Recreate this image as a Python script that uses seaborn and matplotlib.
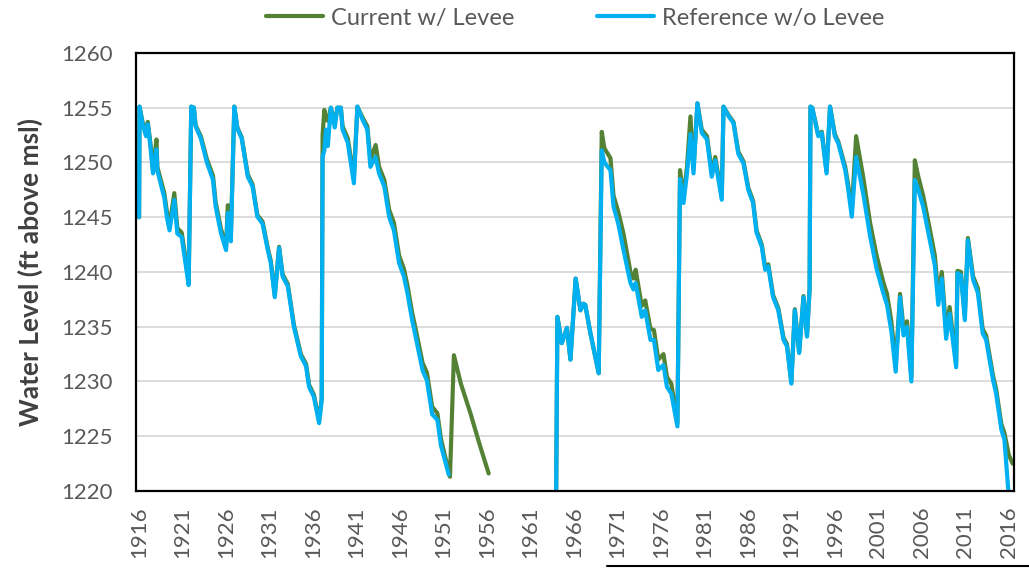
import numpy as np
import pandas as pd
import matplotlib
matplotlib.use("Agg")
import matplotlib.pyplot as plt
from matplotlib.lines import Line2D
import seaborn as sns

# Reference run without the levee, early period (1916-1951)
ref_years_a = [1916.0, 1916.05, 1916.4, 1916.8, 1917.0, 1917.3, 1917.6, 1918.0, 1918.1, 1918.5,
               1918.9, 1919.2, 1919.5, 1920.05, 1920.4, 1920.9, 1921.3, 1921.7, 1922.0, 1922.3,
               1922.5, 1923.1, 1923.8, 1924.5, 1924.8, 1925.4, 1926.0, 1926.2, 1926.55, 1926.95,
               1927.3, 1927.8, 1928.5, 1929.05, 1929.6, 1930.2, 1930.8, 1931.15, 1931.6, 1932.1,
               1932.5, 1933.1, 1933.8, 1934.6, 1935.2, 1935.55, 1936.1, 1936.7, 1937.0, 1937.1,
               1937.3, 1937.5, 1937.7, 1938.05, 1938.5, 1938.8, 1939.2, 1939.4, 1940.0, 1940.7,
               1941.1, 1941.7, 1942.25, 1942.6, 1943.2, 1943.6, 1944.2, 1944.75, 1945.3, 1945.9,
               1946.45, 1946.85, 1947.4, 1947.8, 1948.6, 1949.1, 1949.7, 1950.3, 1950.7, 1951.6]
ref_levels_a = [1245.0, 1255.1, 1253.5, 1252.4, 1253.5, 1251.5, 1249.0, 1251.2, 1249.3, 1248.0,
                1246.8, 1245.0, 1243.8, 1246.6, 1243.5, 1243.2, 1241.0, 1238.8, 1255.1, 1255.0,
                1253.3, 1252.2, 1250.0, 1248.4, 1246.0, 1243.6, 1242.0, 1245.4, 1242.8, 1255.1,
                1253.1, 1252.2, 1248.7, 1247.8, 1245.05, 1244.4, 1242.0, 1240.8, 1237.7, 1242.2,
                1239.6, 1238.7, 1235.0, 1232.3, 1231.4, 1229.5, 1228.6, 1226.2, 1228.3, 1250.5,
                1251.1, 1253.0, 1251.5, 1255.0, 1253.2, 1255.0, 1255.0, 1253.0, 1251.8, 1248.1,
                1255.1, 1253.9, 1253.0, 1249.6, 1250.5, 1249.0, 1247.8, 1245.05, 1243.8, 1240.8,
                1239.6, 1238.1, 1235.6, 1234.1, 1231.0, 1230.1, 1227.0, 1226.5, 1224.2, 1221.5]

# Reference run without the levee, later period (1964-2016)
ref_years_b = [1963.95, 1964.1, 1964.6, 1965.2, 1965.6, 1966.2, 1966.75, 1967.1, 1967.3, 1967.9,
               1968.85, 1969.2, 1969.5, 1970.2, 1970.55, 1971.1, 1971.7, 1972.5, 1972.85, 1973.1,
               1973.8, 1974.2, 1974.8, 1975.2, 1975.7, 1976.3, 1976.7, 1977.2, 1977.9, 1978.2,
               1978.6, 1979.0, 1979.4, 1979.75, 1980.2, 1980.7, 1981.3, 1981.85, 1982.25, 1983.0,
               1983.2, 1983.8, 1984.35, 1984.9, 1985.5, 1986.05, 1986.6, 1987.0, 1987.6, 1988.0,
               1988.35, 1988.9, 1989.5, 1990.1, 1990.5, 1991.0, 1991.4, 1991.9, 1992.4, 1992.8,
               1993.1, 1993.2, 1993.4, 1994.1, 1994.5, 1995.05, 1995.45, 1996.0, 1996.4, 1997.2,
               1997.55, 1997.95, 1998.45, 1999.3, 2000.05, 2000.8, 2001.6, 2002.0, 2002.5, 2003.0,
               2003.5, 2003.9, 2004.3, 2004.8, 2005.2, 2005.6, 2006.15, 2006.9, 2007.5, 2007.9,
               2008.3, 2008.8, 2009.2, 2009.95, 2010.1, 2010.5, 2010.95, 2011.3, 2011.9, 2012.45,
               2013.0, 2013.4, 2014.2, 2014.55, 2015.15, 2015.5, 2016.0]
ref_levels_b = [1219.0, 1235.9, 1233.5, 1234.9, 1232.0, 1239.4, 1236.5, 1237.1, 1237.0, 1234.4,
                1230.75, 1251.1, 1250.0, 1249.3, 1246.0, 1244.4, 1242.0, 1239.0, 1238.4, 1239.0,
                1235.9, 1236.5, 1233.8, 1233.8, 1231.05, 1231.5, 1229.5, 1228.9, 1225.9, 1248.5,
                1246.3, 1249.0, 1252.6, 1249.0, 1255.4, 1252.7, 1252.1, 1248.7, 1250.2, 1246.6,
                1255.1, 1254.2, 1253.6, 1250.8, 1249.9, 1247.5, 1246.3, 1243.6, 1242.3, 1240.2,
                1240.5, 1237.7, 1236.5, 1233.8, 1233.2, 1229.8, 1236.5, 1232.6, 1237.7, 1234.1,
                1238.4, 1255.1, 1255.0, 1252.4, 1252.7, 1249.0, 1255.1, 1252.4, 1251.75, 1249.3,
                1247.5, 1245.05, 1250.5, 1247.0, 1243.3, 1240.3, 1238.0, 1237.0, 1234.6, 1230.9,
                1237.7, 1234.2, 1235.0, 1230.0, 1248.4, 1247.5, 1246.0, 1243.0, 1240.6, 1237.0,
                1239.4, 1233.9, 1236.2, 1231.3, 1239.9, 1239.7, 1235.6, 1242.9, 1239.3, 1238.1,
                1234.4, 1233.8, 1230.1, 1228.9, 1225.6, 1224.7, 1219.5]

# Current conditions with the levee, early period (1916-1956)
cur_years_a = ref_years_a + [1951.75, 1952.2, 1953.0, 1954.1, 1955.1, 1956.2]
cur_levels_a = [1245.0, 1255.1, 1253.7, 1252.6, 1253.7, 1251.8, 1249.3, 1252.1, 1249.6, 1248.4,
                1247.2, 1245.5, 1244.2, 1247.2, 1244.0, 1243.6, 1241.5, 1239.0, 1255.1, 1255.0,
                1253.4, 1252.4, 1250.3, 1248.8, 1246.4, 1244.0, 1242.3, 1246.1, 1243.1, 1255.1,
                1253.2, 1252.3, 1248.9, 1248.0, 1245.2, 1244.6, 1242.2, 1241.0, 1237.9, 1242.3,
                1239.8, 1238.9, 1235.2, 1232.5, 1231.6, 1229.7, 1228.8, 1226.4, 1228.5, 1252.5,
                1254.8, 1254.0, 1253.8, 1255.0, 1253.6, 1255.0, 1255.0, 1253.3, 1252.2, 1248.6,
                1255.1, 1254.1, 1253.3, 1250.2, 1251.6, 1249.6, 1248.4, 1245.7, 1244.5, 1241.5,
                1240.3, 1238.8, 1236.3, 1234.8, 1231.7, 1230.8, 1227.7, 1227.1, 1224.8, 1221.8,
                1221.3, 1232.4, 1229.8, 1227.1, 1224.4, 1221.6]

# Current conditions with the levee, later period (1964-2016)
cur_years_b = ref_years_b[:-1] + [2016.0, 2016.45]
cur_levels_b = [1219.0, 1235.9, 1233.5, 1234.9, 1232.0, 1239.4, 1236.5, 1237.1, 1237.0, 1234.4,
                1230.75, 1252.8, 1251.3, 1250.4, 1247.0, 1245.5, 1243.5, 1240.0, 1239.4, 1240.2,
                1236.9, 1237.4, 1234.8, 1234.7, 1232.0, 1232.5, 1230.4, 1229.8, 1226.2, 1249.3,
                1246.8, 1249.6, 1254.2, 1249.4, 1255.4, 1253.0, 1252.4, 1249.1, 1250.5, 1246.9,
                1255.1, 1254.3, 1253.7, 1251.0, 1250.1, 1247.7, 1246.5, 1243.8, 1242.5, 1240.4,
                1240.7, 1237.9, 1236.7, 1234.0, 1233.4, 1229.9, 1236.6, 1232.7, 1237.8, 1234.2,
                1238.5, 1255.1, 1255.0, 1252.5, 1252.8, 1249.2, 1255.1, 1252.6, 1251.9, 1249.6,
                1247.9, 1245.6, 1252.4, 1248.5, 1244.5, 1241.5, 1239.0, 1238.0, 1235.5, 1231.5,
                1238.0, 1234.8, 1235.5, 1230.4, 1250.2, 1248.7, 1247.0, 1244.0, 1241.5, 1237.8,
                1240.0, 1234.6, 1236.8, 1231.7, 1240.1, 1240.0, 1236.0, 1243.1, 1239.6, 1238.5,
                1234.8, 1234.2, 1230.5, 1229.3, 1226.1, 1225.3, 1223.3, 1222.5]

series_labels = ["Current w/ Levee", "Reference w/o Levee"]
series_colors = ["#548235", "#00B0F0"]
y_ticks = [1220, 1225, 1230, 1235, 1240, 1245, 1250, 1255, 1260]
x_ticks = list(range(1916, 2017, 5))

frames = []
for label, seg, yrs, lv in [
    (series_labels[0], "a", cur_years_a, cur_levels_a),
    (series_labels[0], "b", cur_years_b, cur_levels_b),
    (series_labels[1], "a", ref_years_a, ref_levels_a),
    (series_labels[1], "b", ref_years_b, ref_levels_b),
]:
    frames.append(pd.DataFrame({"year": yrs, "level": lv, "series": label, "segment": seg}))
df = pd.concat(frames, ignore_index=True)

sns.set_theme(style="white")
plt.rcParams["font.family"] = ["Lato", "DejaVu Sans"]

fig = plt.figure(figsize=(10.29, 5.69), dpi=100)
ax = fig.add_axes([0.1322, 0.1371, 0.8532, 0.7698])

for label, color in zip(series_labels, series_colors):
    sub = df[df["series"] == label]
    sns.lineplot(data=sub, x="year", y="level", units="segment", estimator=None,
                 color=color, linewidth=3.0, ax=ax, legend=False, sort=False)

ax.set_xlim(1915.65, 2016.6)
ax.set_ylim(1220, 1260)
ax.set_yticks(y_ticks)
ax.set_xticks(x_ticks)
ax.set_xticklabels([str(t) for t in x_ticks], rotation=90)
ax.tick_params(axis="y", length=0, pad=17, labelsize=16, labelcolor="#595959")
ax.tick_params(axis="x", length=0, pad=11, labelsize=16, labelcolor="#595959")
ax.yaxis.grid(True, color="#D9D9D9", linewidth=1.3)
ax.xaxis.grid(False)
ax.set_axisbelow(True)
for sp in ax.spines.values():
    sp.set_visible(True)
    sp.set_color("black")
    sp.set_linewidth(1.6)

ax.set_xlabel("")
ax.set_ylabel("Water Level (ft above msl)", fontsize=19, fontweight="bold",
              color="#404040", labelpad=13)

handles = [Line2D([0], [0], color=c, linewidth=3) for c in series_colors]
fig.legend(handles, series_labels, loc="center", bbox_to_anchor=(0.559, 0.968),
           ncol=2, frameon=False, fontsize=17, labelcolor="#595959",
           handlelength=2.4, handletextpad=0.35, columnspacing=3.5)

fig.add_artist(Line2D([0.59, 1.0], [0.006, 0.006], color="black", linewidth=1.5,
                      transform=fig.transFigure))

fig.savefig("out.png", dpi=100)
